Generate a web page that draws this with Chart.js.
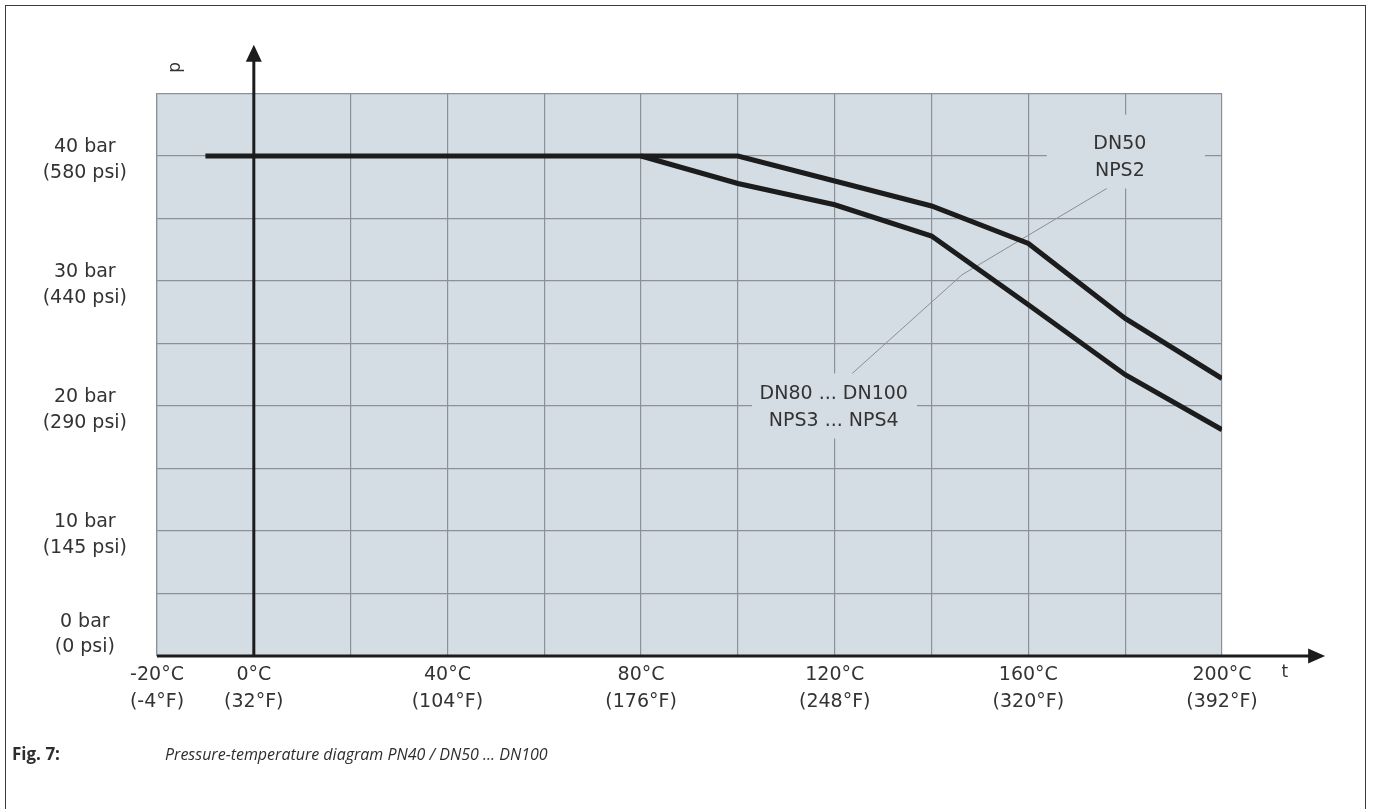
<!DOCTYPE html>
<html>
<head>
<meta charset="utf-8">
<script src="https://cdn.jsdelivr.net/npm/chart.js@4/dist/chart.umd.min.js"></script>
<style>
html,body{margin:0;padding:0;background:#fff;width:1373px;height:809px;overflow:hidden;}
#frame{position:absolute;left:5px;top:5px;width:1361px;height:830px;border:1.5px solid #3c3c3c;border-bottom:none;box-sizing:border-box;}
#wrap{position:absolute;left:0;top:0;width:1373px;height:809px;}
#cap{position:absolute;left:12px;top:742px;font-family:'Open Sans',sans-serif;color:#2e2e2e;white-space:nowrap;}
#cap b{font-weight:700;font-size:17px;display:inline-block;width:153px;}
#cap i{font-style:italic;font-size:16px;}
</style>
</head>
<body>
<div id="frame"></div>
<div id="wrap"><canvas id="c" width="1373" height="809"></canvas></div>
<div id="cap"><b>Fig. 7:</b><i>Pressure-temperature diagram PN40 / DN50 ... DN100</i></div>
<script>
// ---- data ----
const dn50Temps = [-10, 100, 120, 140, 160, 180, 200];
const dn50Bar   = [40, 40, 38.0, 36.0, 33.0, 27.0, 22.2];
const dn80Temps = [80, 100, 120, 140, 160, 180, 200];
const dn80Bar   = [40, 37.8, 36.1, 33.6, 28.1, 22.5, 18.1];

const xTickValues = [-20, 0, 40, 80, 120, 160, 200];
const xTickC = ['-20°C', '0°C', '40°C', '80°C', '120°C', '160°C', '200°C'];
const xTickF = ['(-4°F)', '(32°F)', '(104°F)', '(176°F)', '(248°F)', '(320°F)', '(392°F)'];

const yTickValues = [0, 10, 20, 30, 40];
const yTickBar = ['0 bar', '10 bar', '20 bar', '30 bar', '40 bar'];
const yTickPsi = ['(0 psi)', '(145 psi)', '(290 psi)', '(440 psi)', '(580 psi)'];

const labelDN50 = ['DN50', 'NPS2'];
const labelDN80 = ['DN80 ... DN100', 'NPS3 ... NPS4'];

// ---- styles ----
const FONT = "'DejaVu Sans', sans-serif";
const TEXT = '#333333';
const PLOT_BG = '#d5dde4';
const GRID = '#8a9198';
const INK = '#1c1c1c';

// annotation placement (data coordinates)
const notes = [
  { lines: labelDN50, cx: 178.9, cy: 39.9, box: [163.8, 196.5, 37.4, 43.3] },
  { lines: labelDN80, cx: 119.8, cy: 19.9, box: [102.9, 137.0, 17.4, 22.6] }
];
const leader = [[176.2, 37.4], [146.3, 30.5], [123.6, 22.6]];

const deco = {
  id: 'deco',
  beforeDraw(chart) {
    const { ctx, chartArea: a } = chart;
    ctx.save();
    ctx.fillStyle = PLOT_BG;
    ctx.fillRect(a.left, a.top, a.right - a.left, a.bottom - a.top);
    ctx.restore();
  },
  beforeDatasetsDraw(chart) {
    const { ctx } = chart;
    const xs = chart.scales.x, ys = chart.scales.y;
    ctx.save();
    notes.forEach(n => {
      const x0 = xs.getPixelForValue(n.box[0]), x1 = xs.getPixelForValue(n.box[1]);
      const y0 = ys.getPixelForValue(n.box[3]), y1 = ys.getPixelForValue(n.box[2]);
      ctx.fillStyle = PLOT_BG;
      ctx.fillRect(x0, y0, x1 - x0, y1 - y0);
    });
    ctx.strokeStyle = '#8a8f94';
    ctx.lineWidth = 1;
    ctx.beginPath();
    leader.forEach((p, i) => {
      const px = xs.getPixelForValue(p[0]), py = ys.getPixelForValue(p[1]);
      if (i === 0) ctx.moveTo(px, py); else ctx.lineTo(px, py);
    });
    ctx.stroke();
    ctx.fillStyle = TEXT;
    ctx.font = "19px " + FONT;
    ctx.textAlign = 'center';
    ctx.textBaseline = 'middle';
    notes.forEach(n => {
      const cx = xs.getPixelForValue(n.cx), cy = ys.getPixelForValue(n.cy);
      ctx.fillText(n.lines[0], cx, cy - 13.5);
      ctx.fillText(n.lines[1], cx, cy + 13.5);
    });
    ctx.restore();
  },
  afterDatasetsDraw(chart) {
    const { ctx } = chart;
    const xs = chart.scales.x, ys = chart.scales.y;
    const x0 = xs.getPixelForValue(0), yb = ys.getPixelForValue(0);
    const ytip = ys.getPixelForValue(48.9);
    const xl = xs.getPixelForValue(-20), xtip = xs.getPixelForValue(221.3);
    ctx.save();
    ctx.strokeStyle = INK;
    ctx.fillStyle = INK;
    ctx.lineWidth = 3;
    ctx.beginPath();
    ctx.moveTo(x0, yb); ctx.lineTo(x0, ytip + 14);
    ctx.moveTo(xl, yb); ctx.lineTo(xtip - 14, yb);
    ctx.stroke();
    ctx.beginPath();
    ctx.moveTo(x0, ytip); ctx.lineTo(x0 - 8, ytip + 17); ctx.lineTo(x0 + 8, ytip + 17); ctx.closePath();
    ctx.fill();
    ctx.beginPath();
    ctx.moveTo(xtip, yb); ctx.lineTo(xtip - 17, yb - 7.5); ctx.lineTo(xtip - 17, yb + 7.5); ctx.closePath();
    ctx.fill();
    ctx.fillStyle = TEXT;
    ctx.font = "17px " + FONT;
    ctx.textAlign = 'center';
    ctx.textBaseline = 'middle';
    ctx.fillText('t', xs.getPixelForValue(213), ys.getPixelForValue(-1.3));
    ctx.translate(xs.getPixelForValue(-16.1), ys.getPixelForValue(47.1));
    ctx.rotate(-Math.PI / 2);
    ctx.fillText('p', 0, 0);
    ctx.restore();
  }
};

const toPts = (xs, ys) => xs.map((x, i) => ({ x: x, y: ys[i] }));

new Chart(document.getElementById('c'), {
  type: 'line',
  data: {
    datasets: [
      { label: 'DN50 / NPS2', data: toPts(dn50Temps, dn50Bar), borderColor: INK, borderWidth: 5, pointRadius: 0, borderCapStyle: 'butt', borderJoinStyle: 'miter', tension: 0, fill: false },
      { label: 'DN80 ... DN100 / NPS3 ... NPS4', data: toPts(dn80Temps, dn80Bar), borderColor: INK, borderWidth: 5, pointRadius: 0, borderCapStyle: 'butt', borderJoinStyle: 'miter', tension: 0, fill: false }
    ]
  },
  options: {
    responsive: false,
    animation: false,
    devicePixelRatio: 1,
    layout: { padding: { left: 0, top: 93.5, right: 151, bottom: 53 } },
    plugins: { legend: { display: false }, tooltip: { enabled: false } },
    scales: {
      x: {
        type: 'linear', min: -20, max: 200,
        afterFit(s) { s.height = 100; },
        grid: { color: GRID, lineWidth: 1.2, drawTicks: false },
        border: { display: false },
        ticks: {
          stepSize: 20, autoSkip: false, maxRotation: 0, minRotation: 0, padding: 6,
          color: TEXT, font: { family: FONT, size: 19, lineHeight: '27px' },
          callback: v => { const i = xTickValues.indexOf(v); return i < 0 ? '' : [xTickC[i], xTickF[i]]; }
        }
      },
      y: {
        type: 'linear', min: 0, max: 45,
        afterFit(s) { s.width = 157; },
        grid: { color: GRID, lineWidth: 1.2, drawTicks: false },
        border: { display: true, color: GRID, width: 1.2 },
        ticks: {
          stepSize: 5, autoSkip: false, padding: 30, crossAlign: 'center', labelOffset: 4,
          color: TEXT,
          font: ctx => ({ family: FONT, size: 19, lineHeight: (ctx.tick && ctx.tick.value === 0) ? '25px' : '26px' }),
          callback: v => {
            const i = yTickValues.indexOf(v);
            if (i < 0) return '';
            return v === 0 ? [yTickBar[i], yTickPsi[i], '', ''] : [yTickBar[i], yTickPsi[i]];
          }
        }
      }
    }
  },
  plugins: [deco]
});
</script>
</body>
</html>
